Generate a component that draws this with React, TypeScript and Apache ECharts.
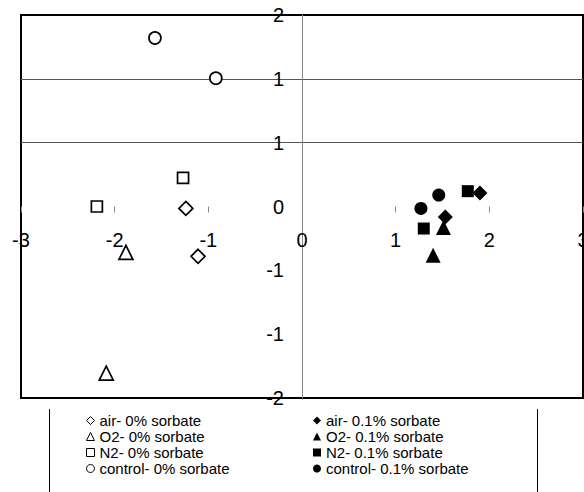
import React, { useEffect, useRef } from 'react';
import * as echarts from 'echarts';

// Categories (series names)
const names0 = ['air- 0% sorbate', 'O2- 0% sorbate', 'N2- 0% sorbate', 'control- 0% sorbate'];
const names01 = ['air- 0.1% sorbate', 'O2- 0.1% sorbate', 'N2- 0.1% sorbate', 'control- 0.1% sorbate'];

// Series values [x, y]
const air0 = [[-1.24, -0.02], [-1.11, -0.52]];
const o20 = [[-1.88, -0.48], [-2.09, -1.74]];
const n20 = [[-1.27, 0.3], [-2.19, 0.0]];
const control0 = [[-1.57, 1.76], [-0.92, 1.34]];
const air01 = [[1.9, 0.14], [1.53, -0.11]];
const o201 = [[1.51, -0.22], [1.4, -0.51]];
const n201 = [[1.77, 0.16], [1.3, -0.23]];
const control01 = [[1.46, 0.12], [1.27, -0.02]];

// Tick labels
const xTickLabels = ['-3', '-2', '-1', '0', '1', '2', '3'];
const yTickLabels = ['-2', '-1', '-1', '0', '1', '1', '2'];

const FONT = "'Liberation Sans', Arial, sans-serif";

function mk(name: string, data: number[][], symbol: string, size: number, filled: boolean) {
  return {
    type: 'scatter',
    name,
    data,
    symbol,
    symbolSize: size,
    itemStyle: filled
      ? { color: '#000', opacity: 1 }
      : { color: '#fff', borderColor: '#000', borderWidth: 1.7, opacity: 1 },
  };
}

const legendBase = {
  orient: 'vertical',
  top: 413,
  padding: 0,
  itemGap: 1,
  itemWidth: 8,
  itemHeight: 8,
  itemStyle: { borderWidth: 1 },
  textStyle: { fontSize: 15, color: '#000', fontFamily: FONT },
};

export default function App() {
  const ref = useRef<HTMLDivElement>(null);
  useEffect(() => {
    const chart = echarts.init(ref.current!, null, { renderer: 'svg' });
    chart.setOption({
      animation: false,
      backgroundColor: '#fff',
      grid: {
        left: 21,
        right: 1,
        top: 15,
        bottom: 94,
        show: true,
        borderColor: '#000',
        borderWidth: 2,
        containLabel: false,
        outerBoundsMode: 'none',
      },
      xAxis: {
        type: 'value',
        min: -3,
        max: 3,
        interval: 1,
        axisLine: { show: true, onZero: true, lineStyle: { color: 'rgba(0,0,0,0)' } },
        axisTick: { show: true, length: 6, lineStyle: { color: '#888', width: 1 } },
        axisLabel: {
          margin: -168,
          fontSize: 20,
          color: '#000',
          fontFamily: FONT,
          showMinLabel: true,
          showMaxLabel: true,
          formatter: (v: number, i: number) => xTickLabels[i] ?? String(Math.round(v)),
        },
        splitLine: { show: false },
      },
      yAxis: {
        type: 'value',
        min: -2,
        max: 2,
        interval: 2 / 3,
        axisLine: { show: true, onZero: true, lineStyle: { color: '#888', width: 1 } },
        axisTick: { show: false },
        axisLabel: {
          margin: -263,
          fontSize: 20,
          color: '#000',
          fontFamily: FONT,
          showMinLabel: true,
          showMaxLabel: true,
          formatter: (v: number, i: number) => yTickLabels[i] ?? String(Math.round(v)),
        },
        splitLine: {
          show: true,
          lineStyle: {
            width: 1,
            color: [
              'rgba(0,0,0,0)',
              'rgba(0,0,0,0)',
              'rgba(0,0,0,0)',
              'rgba(0,0,0,0)',
              '#555',
              '#555',
              'rgba(0,0,0,0)',
            ],
          },
        },
      },
      legend: [
        { ...legendBase, left: 86, data: names0 },
        { ...legendBase, left: 313, data: names01 },
      ],
      graphic: [
        { type: 'line', shape: { x1: 49.5, y1: 409, x2: 49.5, y2: 492 }, style: { stroke: '#000', lineWidth: 1 } },
        { type: 'line', shape: { x1: 537.5, y1: 409, x2: 537.5, y2: 492 }, style: { stroke: '#000', lineWidth: 1 } },
      ],
      series: [
        mk(names0[0], air0, 'diamond', 14, false),
        mk(names0[1], o20, 'triangle', 14, false),
        mk(names0[2], n20, 'rect', 11, false),
        mk(names0[3], control0, 'circle', 12, false),
        mk(names01[0], air01, 'diamond', 15, true),
        mk(names01[1], o201, 'triangle', 15, true),
        mk(names01[2], n201, 'rect', 12, true),
        mk(names01[3], control01, 'circle', 13, true),
      ],
    });
    return () => chart.dispose();
  }, []);
  return (
    <div
      ref={ref}
      style={{ position: 'absolute', left: 0, top: 0, width: 584, height: 492, background: '#fff' }}
    />
  );
}
